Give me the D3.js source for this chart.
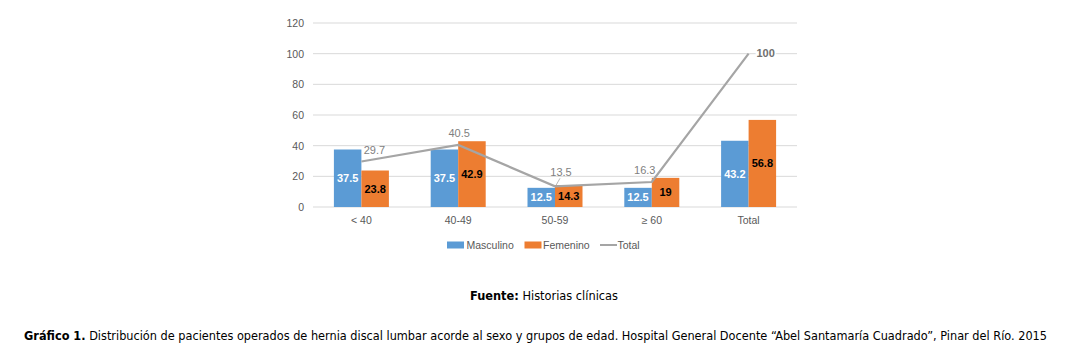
<!DOCTYPE html>
<html><head><meta charset="utf-8">
<script src="https://cdn.jsdelivr.net/npm/d3@7"></script>
<style>body{margin:0;background:#fff}svg{display:block}</style>
</head><body><svg id="c" width="1066" height="346"></svg>
<script>
const categories = ["< 40","40-49","50-59","≥ 60","Total"];
const masculino = [37.5,37.5,12.5,12.5,43.2];
const femenino = [23.8,42.9,14.3,19,56.8];
const total = [29.7,40.5,13.5,16.3,100];
const yTicks = [0,20,40,60,80,100,120];
const seriesNames = ["Masculino","Femenino","Total"];

const svg = d3.select("#c");
const W=1066,H=346;
svg.append("rect").attr("width",W).attr("height",H).attr("fill","#fff");
const m={l:313,r:797,t:23,b:207};
const x=d3.scaleBand().domain(categories).range([m.l,m.r]).paddingInner(0).paddingOuter(0);
const y=d3.scaleLinear().domain([0,120]).range([m.b,m.t]);
const bw=27.5;
const font="'Liberation Sans', Arial, sans-serif";
const fs=10.5;

// grid
svg.append("g").selectAll("line").data(yTicks).join("line")
  .attr("x1",m.l).attr("x2",m.r).attr("y1",d=>y(d)).attr("y2",d=>y(d))
  .attr("stroke","#D9D9D9").attr("stroke-width",1);
// y axis labels
const ya=svg.append("g").attr("transform",`translate(${m.l},0)`)
  .call(d3.axisLeft(y).tickValues(yTicks).tickSize(0).tickPadding(9));
ya.select(".domain").remove();
ya.selectAll("text").attr("font-family",font).attr("font-size",fs).attr("fill","#595959");
// x axis labels
const xa=svg.append("g").attr("transform",`translate(0,${m.b})`)
  .call(d3.axisBottom(x).tickSize(0).tickPadding(10));
xa.select(".domain").remove();
xa.selectAll("text").attr("font-family",font).attr("font-size",fs).attr("fill","#595959");

const cx=c=>x(c)+x.bandwidth()/2;
// bars
const bars=svg.append("g");
bars.selectAll(".m").data(categories).join("rect")
  .attr("x",(c)=>cx(c)-bw).attr("width",bw)
  .attr("y",(c,i)=>y(masculino[i])).attr("height",(c,i)=>y(0)-y(masculino[i]))
  .attr("fill","#5B9BD5");
bars.selectAll(".f").data(categories).join("rect")
  .attr("x",(c)=>cx(c)).attr("width",bw)
  .attr("y",(c,i)=>y(femenino[i])).attr("height",(c,i)=>y(0)-y(femenino[i]))
  .attr("fill","#ED7D31");
// bar labels
svg.append("g").selectAll("text").data(categories).join("text")
  .attr("x",c=>cx(c)-bw/2).attr("y",(c,i)=>(y(masculino[i])+y(0))/2).attr("dy","0.35em")
  .attr("text-anchor","middle").attr("font-family",font).attr("font-weight","bold")
  .attr("font-size",11).attr("fill","#fff").text((c,i)=>masculino[i]);
svg.append("g").selectAll("text").data(categories).join("text")
  .attr("x",c=>cx(c)+bw/2).attr("y",(c,i)=>(y(femenino[i])+y(0))/2).attr("dy","0.35em")
  .attr("text-anchor","middle").attr("font-family",font).attr("font-weight","bold")
  .attr("font-size",11).attr("fill","#000").text((c,i)=>femenino[i]);
// total line
const line=d3.line().x((d,i)=>cx(categories[i])).y(d=>y(d));
svg.append("path").datum(total).attr("d",line).attr("fill","none")
  .attr("stroke","#A5A5A5").attr("stroke-width",2.2);
// total labels
const off=[[13,-11],[1,-12],[6,-14.6],[-7,-12],[17,-0.5]];
// leader for 13.5
svg.append("line").attr("x1",cx(categories[2])+1).attr("y1",y(total[2])-1)
  .attr("x2",cx(categories[2])+5).attr("y2",y(total[2])-8).attr("stroke","#A5A5A5").attr("stroke-width",0.8);
svg.append("g").selectAll("text").data(total).join("text")
  .attr("x",(d,i)=>cx(categories[i])+off[i][0]).attr("y",(d,i)=>y(d)+off[i][1]).attr("dy","0.35em")
  .attr("text-anchor","middle")
  .attr("font-family",font).attr("font-size",11)
  .attr("fill",(d,i)=>i===4?"#6F6F6F":"#7F7F7F")
  .attr("font-weight",(d,i)=>i===4?"bold":"normal")
  .attr("stroke",(d,i)=>i===4?"#fff":"none").attr("stroke-width",3).attr("paint-order","stroke")
  .text(d=>d);

// legend
const lg=svg.append("g").attr("font-family",font).attr("font-size",fs).attr("fill","#595959");
lg.append("rect").attr("x",447).attr("y",241.5).attr("width",17).attr("height",7).attr("fill","#5B9BD5");
lg.append("text").attr("x",466.5).attr("y",245).attr("dy","0.35em").text(seriesNames[0]);
lg.append("rect").attr("x",524.5).attr("y",241.5).attr("width",17).attr("height",7).attr("fill","#ED7D31");
lg.append("text").attr("x",543).attr("y",245).attr("dy","0.35em").text(seriesNames[1]);
lg.append("line").attr("x1",600).attr("x2",617).attr("y1",245).attr("y2",245).attr("stroke","#A5A5A5").attr("stroke-width",2);
lg.append("text").attr("x",617.5).attr("y",245).attr("dy","0.35em").text(seriesNames[2]);

// captions
const cf="'DejaVu Sans Condensed', 'DejaVu Sans', sans-serif";
const f1=svg.append("text").attr("x",470).attr("y",300).attr("font-family",cf).attr("font-size",12)
  .attr("fill","#000").attr("textLength",148).attr("lengthAdjust","spacingAndGlyphs");
f1.append("tspan").attr("font-weight","bold").text("Fuente:");
f1.append("tspan").text(" Historias clínicas");
const f2=svg.append("text").attr("x",24).attr("y",340).attr("font-family",cf).attr("font-size",12)
  .attr("fill","#000").attr("textLength",1023).attr("lengthAdjust","spacingAndGlyphs");
f2.append("tspan").attr("font-weight","bold").text("Gráfico 1.");
f2.append("tspan").text(" Distribución de pacientes operados de hernia discal lumbar acorde al sexo y grupos de edad. Hospital General Docente “Abel Santamaría Cuadrado”, Pinar del Río. 2015");
</script></body></html>
